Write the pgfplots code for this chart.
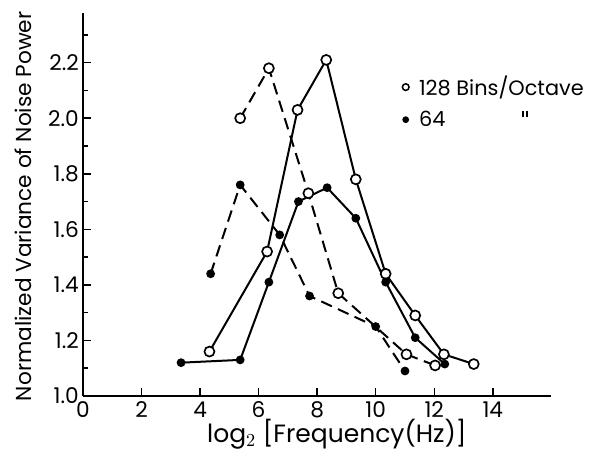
\documentclass[border=0pt]{standalone}
\usepackage{pgfplots}
\pgfplotsset{compat=1.18}
\usepackage{fontspec}
\setmainfont{Poppins}
\newcommand{\ditto}{\rule[5.5pt]{1pt}{3.8pt}\hspace{1.3pt}\rule[5.5pt]{1pt}{3.8pt}}
\begin{document}
\begin{tikzpicture}
\begin{axis}[
  scale only axis, width=281pt, height=230pt,
  xmin=0, xmax=16, ymin=1, ymax=2.38,
  axis lines=left, axis line style={-, line width=1pt},
  xtick={0,2,...,14}, ytick={1.0,1.2,...,2.2},
  minor ytick={1.1,1.3,...,2.31},
  major tick length=5pt, minor tick length=3pt,
  tick style={line width=0.9pt, black},
  tick align=inside,
  /pgf/number format/assume math mode=true,
  yticklabel style={/pgf/number format/fixed, /pgf/number format/fixed zerofill, /pgf/number format/precision=1, xshift=1pt},
  ticklabel style={font=\fontsize{13}{14}\selectfont},
  xlabel={log$_2$ [Frequency(Hz)]},
  ylabel={Normalized Variance of Noise Power},
  every axis y label/.style={at={(axis description cs:-0.128,0.495)}, rotate=90, anchor=center, font=\fontsize{13}{14}\selectfont},
  every axis x label/.style={at={(axis description cs:0.542,-0.10)}, anchor=center, font=\fontsize{15}{16}\selectfont},
  legend style={draw=none, fill=none, at={(axis cs:10.9,2.165)}, anchor=north west,
    font=\fontsize{12.5}{14}\selectfont, row sep=3.5pt, inner sep=0pt},
  legend cell align=left,
]
\addlegendimage{only marks, mark=*, mark size=2pt, mark options={fill=white, line width=0.9pt}}
\addlegendentry{\hspace{4pt}128 Bins/Octave}
\addlegendimage{only marks, mark=*, mark size=1.8pt}
\addlegendentry{\hspace{4pt}64\hspace{46pt}\ditto}
% solid open (128)
\addplot[black, line width=1.2pt, mark=*, mark size=3pt, mark options={solid, fill=white, line width=1pt}, forget plot] coordinates {
(4.32,1.16) (6.29,1.52) (7.33,2.03) (8.31,2.21) (9.32,1.78) (10.34,1.44) (11.35,1.29) (12.33,1.15) (13.35,1.115)};
% solid filled (64)
\addplot[black, line width=1.2pt, mark=*, mark size=2pt, mark options={solid}, forget plot] coordinates {
(3.35,1.12) (5.37,1.13) (6.35,1.41) (7.36,1.70) (8.34,1.75) (9.32,1.64) (10.34,1.41) (11.35,1.21) (12.36,1.115)};
% dashed open (128)
\addplot[black, line width=1.2pt, dash pattern=on 7pt off 4pt, mark=*, mark size=3pt, mark options={solid, fill=white, line width=1pt}, forget plot] coordinates {
(5.37,2.0) (6.35,2.18) (7.7,1.73) (8.72,1.37) (11.05,1.15) (12.03,1.11)};
% dashed filled (64)
\addplot[black, line width=1.2pt, dash pattern=on 7pt off 4pt, mark=*, mark size=2pt, mark options={solid}, forget plot] coordinates {
(4.36,1.44) (5.37,1.76) (6.72,1.58) (7.74,1.36) (10.0,1.25) (11.0,1.09)};
\end{axis}
\pgfresetboundingbox
\path[use as bounding box] ([shift={(-49.8pt,-33.6pt)}]current axis.south west) rectangle ([shift={(303.6pt,237.6pt)}]current axis.south west);
\end{tikzpicture}
\end{document}
